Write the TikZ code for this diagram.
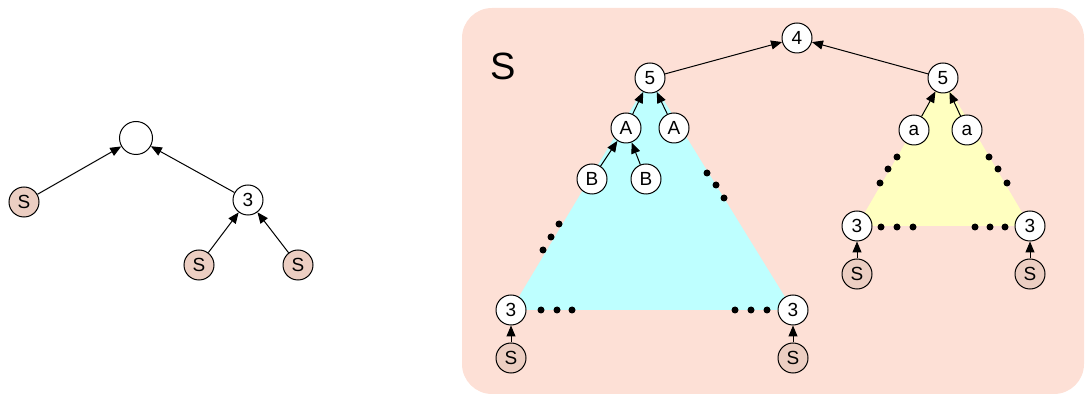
\documentclass[tikz,border=0pt]{standalone}
\usepackage{fontspec}
\setmainfont{Liberation Sans}
\usetikzlibrary{arrows.meta}
\definecolor{panelpink}{RGB}{253,224,214}
\definecolor{leafpink}{RGB}{236,206,194}
\definecolor{tricyan}{RGB}{190,255,255}
\definecolor{triyellow}{RGB}{255,255,192}
\tikzset{
  vert/.style={circle, draw, line width=1pt, fill=white, minimum size=30pt, inner sep=0pt, font=\fontsize{19}{19}\selectfont},
  leaf/.style={vert, fill=leafpink},
  edge/.style={line width=1pt, -{Triangle[length=11pt,width=9pt]}},
}
\newcommand{\threedots}[3]{\foreach \p in {#1,#2,#3} \fill \p circle (3.5pt);}

\begin{document}
\begin{tikzpicture}[x=1pt,y=-1pt]
			\useasboundingbox (0,0) rectangle (1085,395);
			%%%%% LEFT TREE %%%%%
			\node[vert, minimum size=33pt] (root) at (136,138) {};
			\node[leaf] (ls) at (24,202) {S};
			\node[vert] (l3) at (248,200) {3};
			\node[leaf] (ls1) at (199,265) {S};
			\node[leaf] (ls2) at (298,265) {S};
			\draw[edge] (ls) -- (root);
			\draw[edge] (l3) -- (root);
			\draw[edge] (ls1) -- (l3);
			\draw[edge] (ls2) -- (l3);
			
			%%%%% PANEL %%%%%
			\fill[panelpink, rounded corners=30pt] (462,8) rectangle (1084,394);
			\node[font=\fontsize{38}{38}\selectfont] (title) at (503,66) {S};
			
			\fill[tricyan] (511,310) -- (650,78) -- (793,310) -- cycle;
			\fill[triyellow] (857,226) -- (943,78) -- (1030,226) -- cycle;
			
			% dots
			\threedots{(543,250)}{(551,237)}{(559,224)}
			\threedots{(707,173)}{(716,185)}{(724,198)}
			\threedots{(541,310)}{(557,310)}{(572,310)}
			\threedots{(735,310)}{(751,310)}{(767,310)}
			\threedots{(880,183)}{(888,169)}{(897,157)}
			\threedots{(989,157)}{(998,169)}{(1007,183)}
			\threedots{(881,227)}{(897,227)}{(913,227)}
			\threedots{(975,227)}{(990,227)}{(1005,227)}
			
			\node[vert] (top) at (797,38) {4};
			\node[vert] (cl5) at (650,78) {5};
			\node[vert] (cr5) at (943,78) {5};
			\node[vert] (ca1) at (626,128) {A};
			\node[vert] (ca2) at (674,128) {A};
			\node[vert] (cb1) at (592,179) {B};
			\node[vert] (cb2) at (646,179) {B};
			\node[vert] (c3l) at (511,310) {3};
			\node[vert] (c3r) at (793,310) {3};
			\node[leaf] (csl) at (511,358) {S};
			\node[leaf] (csr) at (793,358) {S};
			\node[vert] (ya1) at (914,130) {a};
			\node[vert] (ya2) at (967,130) {a};
			\node[vert] (y3l) at (857,226) {3};
			\node[vert] (y3r) at (1030,226) {3};
			\node[leaf] (ysl) at (857,274) {S};
			\node[leaf] (ysr) at (1030,274) {S};
			
			\draw[edge] (cl5) -- (top);
			\draw[edge] (cr5) -- (top);
			\draw[edge] (ca1) -- (cl5);
			\draw[edge] (ca2) -- (cl5);
			\draw[edge] (cb1) -- (ca1);
			\draw[edge] (cb2) -- (ca1);
			\draw[edge] (csl) -- (c3l);
			\draw[edge] (csr) -- (c3r);
			\draw[edge] (ya1) -- (cr5);
			\draw[edge] (ya2) -- (cr5);
			\draw[edge] (ysl) -- (y3l);
			\draw[edge] (ysr) -- (y3r);
		\end{tikzpicture}
\end{document}
